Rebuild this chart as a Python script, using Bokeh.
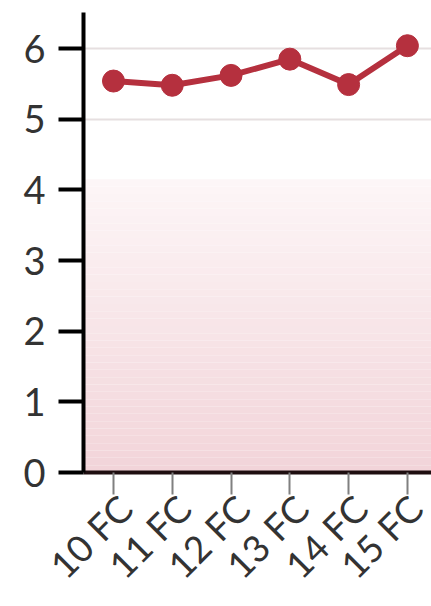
import numpy as np
from bokeh.plotting import figure
from bokeh.models import FixedTicker, Range1d, LinearAxis
from bokeh.embed import file_html
from bokeh.resources import INLINE

categories = ["10 FC", "11 FC", "12 FC", "13 FC", "14 FC", "15 FC"]
values = [5.54, 5.48, 5.62, 5.85, 5.49, 6.04]
y_ticks = [0, 1, 2, 3, 4, 5, 6]

xs = list(range(len(categories)))

X0, X1 = -0.51, 5.41
p = figure(width=431, height=606, output_backend="svg", toolbar_location=None,
           x_range=Range1d(X0, X1), y_range=Range1d(0, 6.51),
           min_border_left=83, min_border_top=12, min_border_bottom=134, min_border_right=0)
p.outline_line_color = None
p.background_fill_color = "white"

# gradient band behind data
n = 40
edges = np.linspace(0, 4.15, n + 1)
c_top = np.array([253, 246, 247])
c_bot = np.array([242, 212, 217])
cols = []
for i in range(n):
    t = (edges[i] + edges[i + 1]) / 2 / 4.15
    c = c_bot + (c_top - c_bot) * t
    cols.append("#%02x%02x%02x" % tuple(int(round(v)) for v in c))
p.quad(left=X0, right=X1, bottom=edges[:-1], top=edges[1:], fill_color=cols, line_color=None)

p.line(xs, values, line_color="#b5303e", line_width=6)
p.scatter(xs, values, size=22, fill_color="#b5303e", line_color="#b5303e")

# grid
p.xgrid.grid_line_color = None
p.ygrid.grid_line_color = "#e6dfe0"
p.ygrid.grid_line_width = 2
p.ygrid.level = "underlay"

# y axis
p.yaxis.ticker = FixedTicker(ticks=y_ticks)
p.yaxis.axis_line_width = 4
p.yaxis.axis_line_color = "black"
p.yaxis.major_tick_line_width = 4
p.yaxis.major_tick_line_color = "black"
p.yaxis.major_tick_out = 25
p.yaxis.major_tick_in = 0
p.yaxis.minor_tick_line_color = None
p.yaxis.major_label_text_font = "Lato"
p.yaxis.major_label_text_font_size = "38px"
p.yaxis.major_label_text_color = "#333333"
p.yaxis.major_label_standoff = 13

# x axis: line + ticks only
p.xaxis.ticker = FixedTicker(ticks=xs)
p.xaxis.major_label_overrides = {i: "" for i in xs}
p.xaxis.major_label_text_font_size = "0px"
p.xaxis.major_label_standoff = 0
p.xaxis.axis_line_width = 4
p.xaxis.axis_line_color = "#1e0e10"
p.xaxis.major_tick_line_width = 2
p.xaxis.major_tick_line_color = "#808080"
p.xaxis.major_tick_out = 22
p.xaxis.major_tick_in = 0
p.xaxis.minor_tick_line_color = None

# rotated category labels, nudged right via a shifted companion range
d = 0.2
p.extra_x_ranges = {"labels": Range1d(X0 - d, X1 - d)}
lab_axis = LinearAxis(x_range_name="labels", ticker=FixedTicker(ticks=xs),
                      major_label_overrides={i: c for i, c in zip(xs, categories)},
                      axis_line_color=None, major_tick_line_color=None, minor_tick_line_color=None,
                      major_tick_out=0, major_tick_in=0,
                      major_label_orientation=np.pi / 4, major_label_standoff=7,
                      major_label_text_font="Lato", major_label_text_font_size="37px",
                      major_label_text_color="#333333")
p.add_layout(lab_axis, "below")

open("out.html", "w").write(file_html(p, INLINE))
